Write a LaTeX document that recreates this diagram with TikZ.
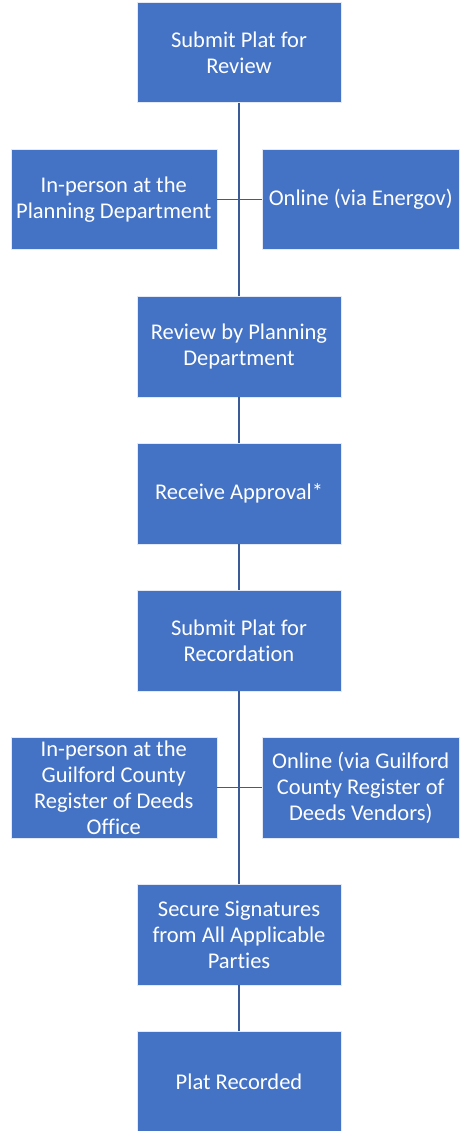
\documentclass[tikz,border=0pt]{standalone}
\usepackage{fontspec}
\setmainfont[Ligatures={NoCommon}]{Carlito}
\usepackage{xcolor}
\usetikzlibrary{positioning}

\definecolor{boxblue}{HTML}{4472C4}
\definecolor{lineblue}{HTML}{3A5B97}

\begin{document}
\begin{tikzpicture}[
  node distance=46pt and 22pt,
  b/.style={draw=white!85!boxblue, line width=0.5pt, fill=boxblue, text=white,
    minimum width=204pt, minimum height=100.5pt, align=center, inner xsep=2pt,
    font=\fontsize{22.5pt}{26pt}\selectfont},
  l/.style={draw=lineblue, line width=1.8pt}
]
  \useasboundingbox (0,0) rectangle (459pt,-1131pt);
  % main column
  \node[b] (sub) at (239pt,-52.5pt) {Submit Plat for\\Review};
  \node[b, below=193pt of sub] (rev) {Review by Planning\\Department};
  \node[b, below=of rev] (appr) {Receive Approval*};
  \node[b, below=of appr] (rec1) {Submit Plat for\\Recordation};
  \node[b, below=193pt of rec1] (sig) {Secure Signatures\\from All Applicable\\Parties};
  \node[b, below=of sig] (done) {Plat Recorded};
  % branch points between the steps
  \path (sub) -- coordinate (j1) (rev);
  \path (rec1) -- coordinate (j2) (sig);
  % ways to submit
  \node[b, minimum width=206pt, left=of j1] (inp1) {In-person at the\\Planning Department};
  \node[b, minimum width=197pt, right=23pt of j1] (onl1) {Online (via Energov)};
  \node[b, minimum width=206pt, left=of j2] (inp2) {In-person at the\\Guilford County\\Register of Deeds\\Office};
  \node[b, minimum width=197pt, right=23pt of j2] (onl2) {Online (via Guilford\\County Register of\\Deeds Vendors)};
  % connectors
  \draw[l] (sub.south) -- (rev.north);
  \draw[l] (inp1.east) -- (onl1.west);
  \draw[l] (rev) -- (appr);
  \draw[l] (appr) -- (rec1);
  \draw[l] (rec1.south) -- (sig.north);
  \draw[l] (inp2.east) -- (onl2.west);
  \draw[l] (sig) -- (done);
\end{tikzpicture}
\end{document}
